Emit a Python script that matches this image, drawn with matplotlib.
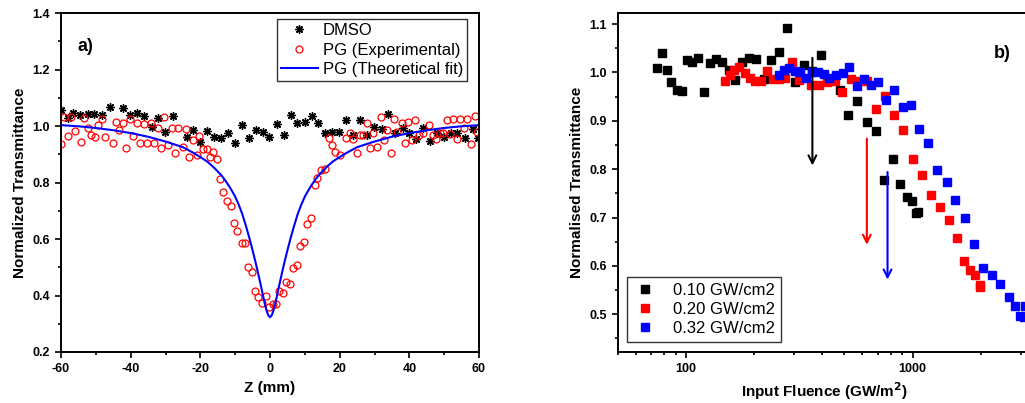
import matplotlib
matplotlib.use("Agg")
import matplotlib.pyplot as plt
from matplotlib.ticker import MultipleLocator, FixedLocator, NullFormatter

plt.rcParams["font.family"] = ["Liberation Sans", "DejaVu Sans"]

# ---- panel a) : z-scan ----
dmso_z = [-60, -58, -56.5, -54.5, -52.2, -50.5, -48.3, -45.9, -42.1, -40.2, -38.1, -36.2, -34, -32.1,
          -30.1, -27.9, -23.9, -22, -20.1, -18, -16.1, -14.2, -12, -10, -8.1, -6, -4, -2.1, -0.2,
          1.9, 4, 5.9, 7.8, 10, 12, 13.9, 15.8, 17.7, 19.9, 21.8, 23.9, 25.8, 27.9, 29.9, 32.1,
          34, 35.9, 38.1, 40, 41.9, 43.8, 45.9, 47.9, 50, 51.9, 53.8, 56, 58.2, 59.8]
dmso_t = [1.057, 1.030, 1.045, 1.039, 1.042, 1.042, 1.039, 1.066, 1.063, 1.039, 1.047, 1.035, 0.998, 1.027,
          0.980, 1.035, 0.962, 0.986, 0.944, 0.983, 0.960, 0.956, 0.976, 0.941, 1.003, 0.956, 0.986, 0.980, 0.962,
          1.007, 0.968, 1.039, 1.012, 1.015, 1.035, 1.012, 0.976, 0.980, 0.977, 1.021, 0.968, 1.021, 0.968, 0.998, 0.988,
          1.042, 0.976, 0.992, 0.975, 0.953, 0.992, 0.948, 0.974, 0.960, 0.976, 0.974, 0.956, 0.988, 0.956]

pg_z = [-60, -59, -58.1, -57.1, -56, -54.3, -53.3, -52.2, -51.4, -50.2, -49.3, -48.3, -47.3, -45.2, -44.2,
        -43.3, -42.1, -41.3, -40.2, -39.2, -38.3, -37.3, -36.2, -35.2, -34.2, -33.3, -32.1, -31.4, -30.3,
        -29.2, -28.2, -27.3, -26.3, -25.1, -24.1, -23.2, -22.2, -21.1, -20.3, -19.1, -18.2, -17.2, -16.3,
        -15.3, -14.4, -13.4, -12.3, -11.3, -10.3, -9.4, -8.1, -7.2, -6.2, -5.3, -4.3, -3.35, -2.4, -1.15,
        -0.2, 0.8, 1.7, 2.7, 3.8, 4.6, 5.7, 6.7, 7.7, 8.6, 9.8, 10.7, 11.7, 12.9, 13.6, 14.5, 15.8, 16.8,
        17.7, 18.7, 20.1, 21.8, 23.0, 23.9, 24.9, 25.8, 26.8, 27.8, 28.7, 29.7, 30.6, 31.8, 32.7, 33.7,
        34.6, 35.6, 36.6, 37.8, 38.8, 39.7, 40.7, 41.6, 42.9, 44.0, 45.7, 46.7, 47.7, 48.8, 49.8, 50.7,
        51.7, 52.6, 53.6, 54.6, 55.7, 56.6, 57.6, 58.9, 59.5]
pg_t = [0.936, 1.033, 0.965, 1.033, 0.982, 0.945, 1.027, 0.992, 0.968, 0.962, 1.004, 1.024, 0.960, 0.941, 1.015,
        0.986, 1.009, 0.921, 1.024, 0.965, 1.012, 0.939, 1.007, 0.939, 1.012, 0.939, 0.992, 0.921, 1.031,
        0.933, 0.992, 0.903, 0.992, 0.927, 0.988, 0.891, 0.950, 0.897, 0.965, 0.917, 0.917, 0.891, 0.909,
        0.882, 0.811, 0.767, 0.736, 0.717, 0.655, 0.629, 0.585, 0.585, 0.500, 0.482, 0.417, 0.396, 0.372, 0.400,
        0.360, 0.370, 0.370, 0.417, 0.408, 0.449, 0.440, 0.496, 0.508, 0.575, 0.590, 0.653, 0.673, 0.790, 0.815, 0.844, 0.847, 0.956,
        0.933, 0.909, 0.897, 0.956, 0.976, 0.953, 0.903, 0.968, 0.968, 1.010, 0.921, 0.974, 0.927, 1.033, 0.950, 0.986,
        0.903, 1.024, 0.980, 1.010, 0.939, 1.015, 0.950, 1.020, 0.968, 0.974, 1.004, 0.968, 0.953, 0.974, 0.976, 1.020,
        0.970, 1.024, 0.953, 1.026, 0.992, 1.026, 0.936, 1.035, 0.980]

fit_z = [-60, -55, -50, -45, -40, -35, -30, -25, -22, -20, -18, -16, -14, -13, -12, -11, -10, -9, -8, -7,
         -6, -5, -4, -3, -2.5, -2, -1.5, -1, -0.5, 0, 0.5, 1, 1.5, 2, 2.5, 3, 4, 5, 6, 7, 8, 9, 10, 11,
         12, 13, 14, 16, 18, 20, 22, 25, 30, 35, 40, 45, 50, 55, 60]
fit_t = [1.003, 0.999, 0.993, 0.985, 0.975, 0.962, 0.945, 0.925, 0.905, 0.890, 0.874, 0.852, 0.826, 0.810,
         0.792, 0.772, 0.750, 0.722, 0.690, 0.650, 0.607, 0.560, 0.510, 0.456, 0.428, 0.399, 0.371, 0.347,
         0.330, 0.323, 0.330, 0.347, 0.371, 0.399, 0.428, 0.456, 0.510, 0.560, 0.607, 0.650, 0.690, 0.722,
         0.750, 0.772, 0.792, 0.810, 0.826, 0.852, 0.874, 0.890, 0.905, 0.925, 0.945, 0.962, 0.975, 0.985,
         0.993, 0.999, 1.003]

# ---- panel b) : fluence dependence ----
f010 = [74.5, 78.4, 81.9, 85.9, 91.3, 96, 101, 106, 113, 120, 127, 136, 144, 154, 165, 177, 189, 204,
        220, 238, 258, 279, 303, 330, 359, 394, 476, 521, 571, 628, 690, 751, 818, 881, 943, 991, 1035, 1060]
t010 = [1.010, 1.041, 1.005, 0.981, 0.963, 0.961, 1.025, 1.022, 1.029, 0.960, 1.019, 1.027, 1.022, 1.005,
        0.984, 1.021, 1.029, 1.027, 0.986, 1.025, 1.043, 1.091, 0.980, 1.016, 1.003, 1.037, 0.963, 0.912,
        0.941, 0.898, 0.879, 0.777, 0.822, 0.769, 0.742, 0.734, 0.710, 0.711]

f020 = [148, 156, 163, 172, 181, 191, 202, 214, 228, 242, 258, 274, 293, 314, 355, 388, 419, 452, 490,
        534, 583, 628, 690, 757, 830, 910, 1002, 1097, 1204, 1323, 1443, 1571, 1680, 1797, 1892, 1977, 1990]
t020 = [0.983, 0.994, 1.005, 1.012, 0.998, 0.988, 0.982, 0.982, 1.003, 0.986, 0.986, 0.988, 1.021, 0.984,
        0.975, 0.975, 0.980, 0.982, 0.959, 0.986, 0.982, 0.982, 0.925, 0.951, 0.913, 0.882, 0.822, 0.789,
        0.746, 0.722, 0.694, 0.658, 0.610, 0.591, 0.582, 0.560, 0.556]

f032 = [258, 271, 286, 302, 319, 337, 361, 384, 405, 426, 460, 493, 526, 567, 607, 655, 707, 764, 830,
        903, 983, 1071, 1172, 1283, 1419, 1540, 1703, 1872, 2050, 2245, 2442, 2657, 2844, 2990, 3093, 3140]
t032 = [0.994, 1.005, 1.010, 1.003, 1.001, 0.988, 1.001, 1.000, 0.996, 0.988, 0.994, 0.998, 1.012, 0.972,
        0.987, 0.974, 0.981, 0.944, 0.963, 0.929, 0.932, 0.884, 0.854, 0.798, 0.774, 0.736, 0.700, 0.645,
        0.596, 0.581, 0.563, 0.535, 0.518, 0.497, 0.494, 0.518]

# arrows: (fluence, start T, end T)
arrow_x = [361, 628, 775]
arrow_top = [1.036, 0.869, 0.800]
arrow_bot = [0.802, 0.638, 0.566]
arrow_col = ["black", "red", "blue"]


def style_axes(ax):
    for s in ax.spines.values():
        s.set_linewidth(1.4)
    ax.tick_params(which="both", direction="out", width=1.2, top=False, right=False, labelsize=9)
    ax.tick_params(which="major", length=4.5)
    ax.tick_params(which="minor", length=2.5)
    for lab in ax.get_xticklabels() + ax.get_yticklabels():
        lab.set_fontweight("bold")


def plot_zscan(ax):
    ax.plot(dmso_z, dmso_t, linestyle="none", marker=(8, 2, 0), ms=6, mew=1.0, color="black", label="DMSO")
    ax.plot(pg_z, pg_t, linestyle="none", marker="o", ms=5, mfc="none", mec="red", mew=0.9,
            label="PG (Experimental)")
    ax.plot(fit_z, fit_t, color="blue", lw=1.5, label="PG (Theoretical fit)")
    ax.set_xlim(-60, 60)
    ax.set_ylim(0.2, 1.4)
    ax.xaxis.set_major_locator(FixedLocator([-60, -40, -20, 0, 20, 40, 60]))
    ax.set_xticklabels(["-60", "-40", "-20", "0", "20", "40", "60"])
    ax.xaxis.set_minor_locator(MultipleLocator(10))
    ax.yaxis.set_major_locator(MultipleLocator(0.2))
    ax.yaxis.set_minor_locator(MultipleLocator(0.1))
    ax.set_xlabel("Z (mm)", fontsize=11, fontweight="bold")
    ax.set_ylabel("Normalized Transmittance", fontsize=11, fontweight="bold", labelpad=4)
    style_axes(ax)
    leg = ax.legend(loc="upper right", bbox_to_anchor=(0.972, 0.983), fontsize=12, frameon=True,
                    fancybox=False, edgecolor="black", labelspacing=0.28, handlelength=2.2,
                    handletextpad=0.3, borderpad=0.25, borderaxespad=0)
    leg.get_frame().set_linewidth(1.0)
    ax.text(0.04, 0.9, "a)", transform=ax.transAxes, fontsize=13, fontweight="bold", va="center")


def plot_fluence(ax):
    ax.plot(f010, t010, linestyle="none", marker="s", ms=5.2, color="black", label="0.10 GW/cm2")
    ax.plot(f020, t020, linestyle="none", marker="s", ms=5.2, color="red", label="0.20 GW/cm2")
    ax.plot(f032, t032, linestyle="none", marker="s", ms=5.2, color="blue", label="0.32 GW/cm2")
    for x, y0, y1, c in zip(arrow_x, arrow_top, arrow_bot, arrow_col):
        ax.annotate("", xy=(x, y1), xytext=(x, y0),
                    arrowprops=dict(arrowstyle="->", color=c, lw=1.5, mutation_scale=14))
    ax.set_xscale("log")
    ax.set_xlim(50, 3300)
    ax.set_ylim(0.422, 1.123)
    ax.xaxis.set_major_locator(FixedLocator([100, 1000]))
    ax.set_xticklabels(["100", "1000"])
    ax.xaxis.set_minor_locator(FixedLocator([50, 60, 70, 80, 90, 200, 300, 400, 500, 600, 700, 800, 900,
                                             2000, 3000]))
    ax.xaxis.set_minor_formatter(NullFormatter())
    ax.yaxis.set_major_locator(MultipleLocator(0.1))
    ax.yaxis.set_minor_locator(MultipleLocator(0.05))
    ax.set_xlabel("Input Fluence (GW/m$^\\mathbf{2}$)", fontsize=11, fontweight="bold")
    ax.set_ylabel("Normalised Transmittance", fontsize=11, fontweight="bold", labelpad=4)
    style_axes(ax)
    leg = ax.legend(loc="lower left", bbox_to_anchor=(0.022, 0.03), fontsize=12, frameon=True,
                    fancybox=False, edgecolor="black", labelspacing=0.25, handlelength=1.4,
                    handletextpad=1.0, borderpad=0.35, borderaxespad=0)
    leg.get_frame().set_linewidth(1.0)
    ax.text(0.912, 0.88, "b)", transform=ax.transAxes, fontsize=13, fontweight="bold", va="center")


def main():
    fig = plt.figure(figsize=(10.25, 4.03), dpi=100)
    ax1 = fig.add_axes([61 / 1025, 51 / 403, 418 / 1025, 339 / 403])
    ax2 = fig.add_axes([618 / 1025, 51 / 403, 412 / 1025, 339 / 403])
    plot_zscan(ax1)
    plot_fluence(ax2)
    fig.savefig("out.png", dpi=100)
    plt.close(fig)


if __name__ == "__main__":
    main()
